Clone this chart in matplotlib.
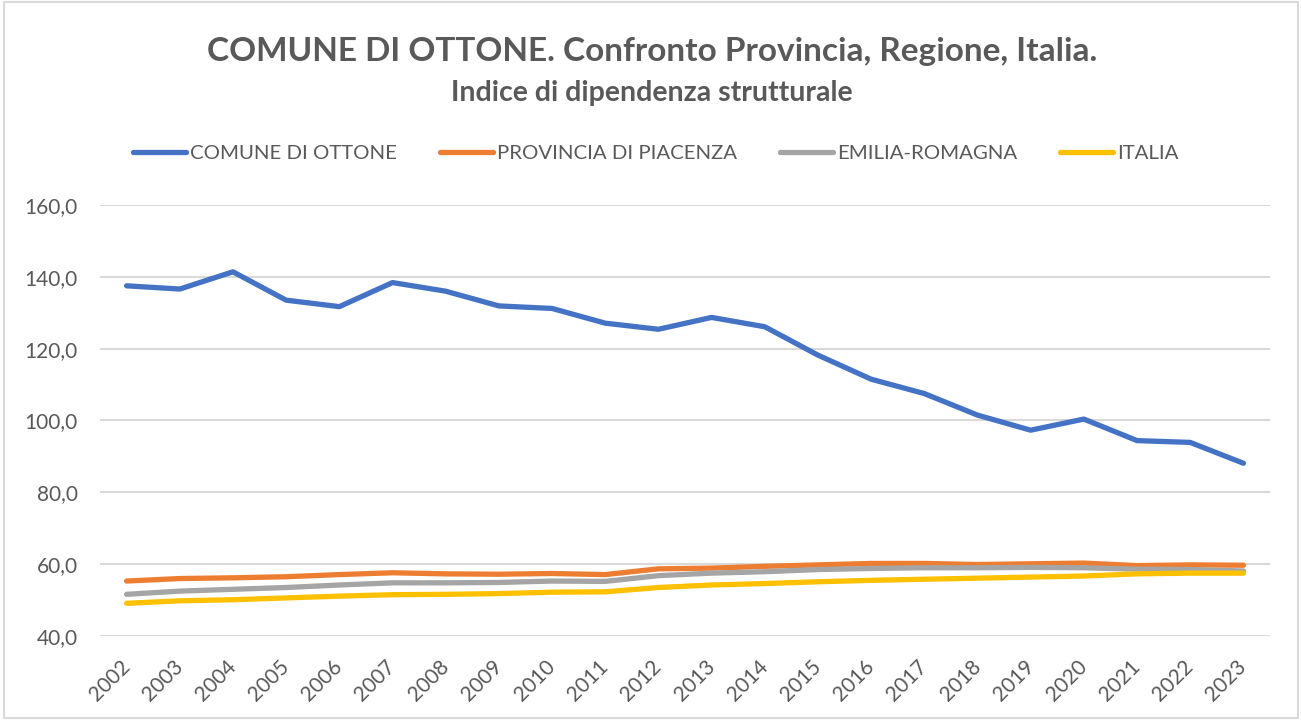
import matplotlib
matplotlib.use("Agg")
import matplotlib.pyplot as plt
from matplotlib.patches import Rectangle

years = [str(y) for y in range(2002, 2024)]

comune = [137.5, 136.6, 141.4, 133.5, 131.7, 138.4, 136.0, 131.9, 131.2, 127.1, 125.4,
          128.7, 126.1, 118.2, 111.5, 107.5, 101.5, 97.3, 100.4, 94.4, 93.9, 88.1]
provincia = [55.3, 56.0, 56.2, 56.5, 57.1, 57.6, 57.3, 57.2, 57.4, 57.1, 58.7,
             58.9, 59.4, 59.8, 60.2, 60.2, 59.9, 60.1, 60.3, 59.6, 59.8, 59.7]
regione = [51.6, 52.5, 53.0, 53.5, 54.2, 54.8, 54.8, 54.9, 55.3, 55.2, 56.8,
           57.5, 57.9, 58.5, 58.8, 59.0, 59.0, 59.1, 59.0, 58.6, 58.5, 58.1]
italia = [49.1, 49.8, 50.1, 50.6, 51.1, 51.5, 51.6, 51.8, 52.2, 52.3, 53.5,
          54.2, 54.6, 55.1, 55.5, 55.8, 56.1, 56.4, 56.7, 57.3, 57.5, 57.5]

series = [
    ("COMUNE DI OTTONE", comune, "#4472C4"),
    ("PROVINCIA DI PIACENZA", provincia, "#ED7D31"),
    ("EMILIA-ROMAGNA", regione, "#A5A5A5"),
    ("ITALIA", italia, "#FFC000"),
]

plt.rcParams['font.family'] = ['Lato', 'DejaVu Sans']
text_color = "#595959"

fig = plt.figure(figsize=(13.01, 7.2), dpi=100)
ax = fig.add_axes([100 / 1301, 1 - 636 / 720, 1170 / 1301, 431 / 720])

x = list(range(len(years)))
for name, values, color in series:
    ax.plot(x, values, color=color, lw=3.8, label=name, solid_capstyle='round',
            solid_joinstyle='round')

ax.set_xlim(-0.5, len(years) - 0.5)
ax.set_ylim(40, 160)
ax.set_yticks(range(40, 161, 20))
ax.set_yticklabels([f"{v},0" for v in range(40, 161, 20)])
ax.set_xticks(x)
ax.set_xticklabels(years, rotation=45, ha='right', va='center', rotation_mode='anchor')
ax.tick_params(axis='both', length=0, colors=text_color, labelsize=15)
ax.tick_params(axis='y', pad=16)
ax.tick_params(axis='x', pad=20)
ax.grid(axis='y', color="#D9D9D9", lw=1.5)
ax.set_axisbelow(True)
for s in ax.spines.values():
    s.set_visible(False)

fig.text(0.501, 1 - 52 / 720, "COMUNE DI OTTONE. Confronto Provincia, Regione, Italia.",
         ha='center', va='center', fontsize=24, fontweight='bold', color=text_color)
fig.text(0.501, 1 - 93 / 720, "Indice di dipendenza strutturale",
         ha='center', va='center', fontsize=20.5, fontweight='bold', color=text_color)

fig.legend(loc='center', bbox_to_anchor=(656 / 1301, 1 - 153 / 720), ncol=4,
           frameon=False, fontsize=14.7, handlelength=2.6, handletextpad=0.2,
           columnspacing=2.1, labelcolor=text_color)

fig.patches.append(Rectangle((4 / 1301, 2 / 720), 1294 / 1301, 716 / 720,
                             transform=fig.transFigure, fill=False,
                             edgecolor="#D9D9D9", lw=1.5))

fig.savefig("out.png", dpi=100)
